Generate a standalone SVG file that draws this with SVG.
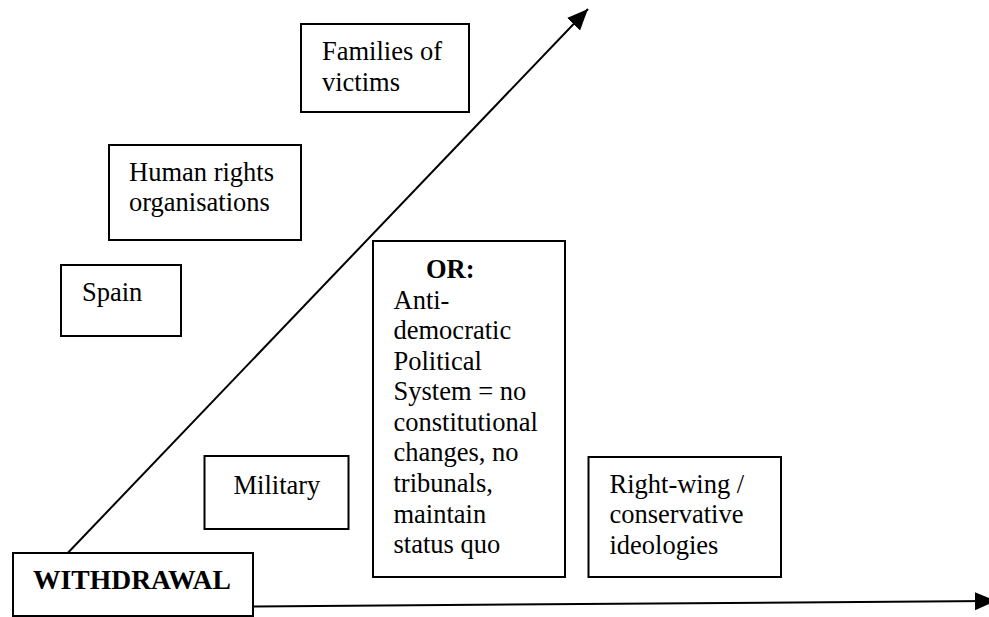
<svg xmlns="http://www.w3.org/2000/svg" width="989" height="617" viewBox="0 0 989 617">
<style>
.box{fill:#fff;stroke:#000;stroke-width:2}
.t{font-family:"Liberation Serif","Times New Roman",serif;font-size:26.5px;fill:#000}
.b{font-weight:bold}
.w{font-size:27.6px}
.conn{stroke:#000;stroke-width:2;fill:none}
</style>
<defs>
<marker id="ah" markerUnits="userSpaceOnUse" markerWidth="24" markerHeight="20" refX="21" refY="9" orient="auto">
<path d="M0,0 L21,9 L0,18 z" fill="#000"/>
</marker>
</defs>
<rect width="989" height="617" fill="#fff"/>
<g id="connectors">
<line class="conn" x1="40" y1="582" x2="588" y2="9" marker-end="url(#ah)"/>
<line class="conn" x1="253" y1="606.5" x2="996" y2="601" marker-end="url(#ah)"/>
</g>
<g id="families">
<rect class="box" x="301" y="24" width="168" height="88"/>
<text class="t" x="322" y="60">Families of</text>
<text class="t" x="322" y="90.5">victims</text>
</g>
<g id="human-rights">
<rect class="box" x="109" y="145" width="192" height="95"/>
<text class="t" x="129" y="181">Human rights</text>
<text class="t" x="129" y="211">organisations</text>
</g>
<g id="spain">
<rect class="box" x="61" y="265" width="120" height="71"/>
<text class="t" x="82" y="301">Spain</text>
</g>
<g id="military">
<rect class="box" x="204.5" y="456" width="144" height="73"/>
<text class="t" x="233.5" y="493.5">Military</text>
</g>
<g id="or-box">
<rect class="box" x="373" y="241" width="192" height="336"/>
<text class="t b" x="426" y="278">OR:</text>
<text class="t" x="393.5" y="308.5">Anti-</text>
<text class="t" x="393.5" y="339">democratic</text>
<text class="t" x="393.5" y="369.5">Political</text>
<text class="t" x="393.5" y="400">System = no</text>
<text class="t" x="393.5" y="430.5">constitutional</text>
<text class="t" x="393.5" y="461">changes, no</text>
<text class="t" x="393.5" y="492">tribunals,</text>
<text class="t" x="393.5" y="522.5">maintain</text>
<text class="t" x="393.5" y="553">status quo</text>
</g>
<g id="right-wing">
<rect class="box" x="588.5" y="457" width="192.5" height="120"/>
<text class="t" x="609.5" y="492.5">Right-wing /</text>
<text class="t" x="609.5" y="523">conservative</text>
<text class="t" x="609.5" y="553.5">ideologies</text>
</g>
<g id="withdrawal">
<rect class="box" x="13" y="553" width="240" height="63"/>
<text class="t b w" x="33" y="589">WITHDRAWAL</text>
</g>
</svg>
